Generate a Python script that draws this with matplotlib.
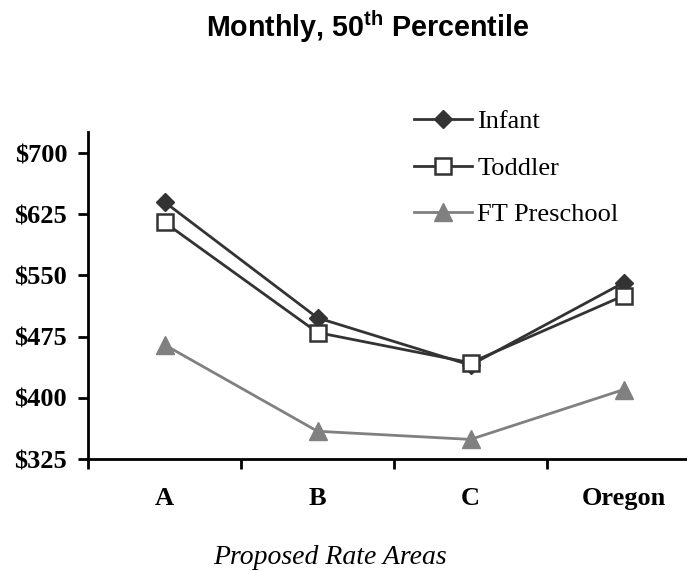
import matplotlib
matplotlib.use("Agg")
import matplotlib.pyplot as plt
import numpy as np

categories = ["A", "B", "C", "Oregon"]
infant = [640, 498, 440, 541]
toddler = [615, 480, 443, 525]
ft_preschool = [465, 359, 349, 410]
yticks = [325, 400, 475, 550, 625, 700]
ytick_labels = ["$325", "$400", "$475", "$550", "$625", "$700"]

plt.rcParams['mathtext.fontset'] = 'custom'
plt.rcParams['mathtext.rm'] = 'Liberation Sans:bold'
plt.rcParams['mathtext.bf'] = 'Liberation Sans:bold'

W, H = 687, 573
fig = plt.figure(figsize=(W / 100, H / 100), dpi=100)
ax = fig.add_axes([88 / W, 1 - 459 / H, 1 - 88 / W, (459 - 132) / H])

x = np.arange(len(categories))
dark = "#333333"
grey = "#808080"
ax.plot(x, infant, color=dark, lw=2, marker="D", ms=9.2, mfc=dark, mec=dark,
        label="Infant", zorder=3)
ax.plot(x, toddler, color=dark, lw=2, marker="s", ms=12, mfc="white", mec=dark,
        mew=1.8, label="Toddler", zorder=4)
ax.plot(x, ft_preschool, color=grey, lw=2, marker="^", ms=13.5, mfc=grey, mec=grey,
        label="FT Preschool", zorder=3)

ax.set_xlim(-0.5, -0.5 + (W - 88) / 153)
ax.set_ylim(325, 700 + 21 / 0.816)

ax.set_yticks(yticks)
ax.set_yticklabels(ytick_labels, fontfamily="Liberation Serif", fontweight="bold", fontsize=19)
ax.set_xticks(x)
ax.set_xticklabels(categories, fontfamily="Liberation Serif", fontweight="bold", fontsize=19)
ax.set_xticks([-0.5, 0.5, 1.5, 2.5], minor=True)
ax.tick_params(axis="x", which="major", length=0, pad=20)
ax.tick_params(axis="x", which="minor", length=7, width=2, direction="out")
ax.tick_params(axis="y", which="major", length=7, width=2, direction="out", pad=8)
ax.yaxis.set_minor_locator(matplotlib.ticker.NullLocator())

for s in ["top", "right"]:
    ax.spines[s].set_visible(False)
for s in ["left", "bottom"]:
    ax.spines[s].set_linewidth(2)
    ax.spines[s].set_color("black")

leg = ax.legend(loc="upper left", bbox_to_anchor=(414 / W, 1 - 110 / H),
                bbox_transform=fig.transFigure, frameon=False,
                prop={"family": "Liberation Serif", "size": 19},
                handlelength=2.2, handletextpad=0.2, labelspacing=0.87,
                borderpad=0, borderaxespad=0)

fig.text(368 / W, 1 - 37 / H, r"Monthly, 50$^{\mathrm{th}}$ Percentile",
         ha="center", va="baseline", fontfamily="Liberation Sans",
         fontweight="bold", fontsize=20.6)
fig.text(330 / W, 1 - 558 / H, "Proposed Rate Areas", ha="center", va="center",
         fontfamily="Liberation Serif", fontstyle="italic", fontsize=20)

fig.savefig("out.png", dpi=100)
